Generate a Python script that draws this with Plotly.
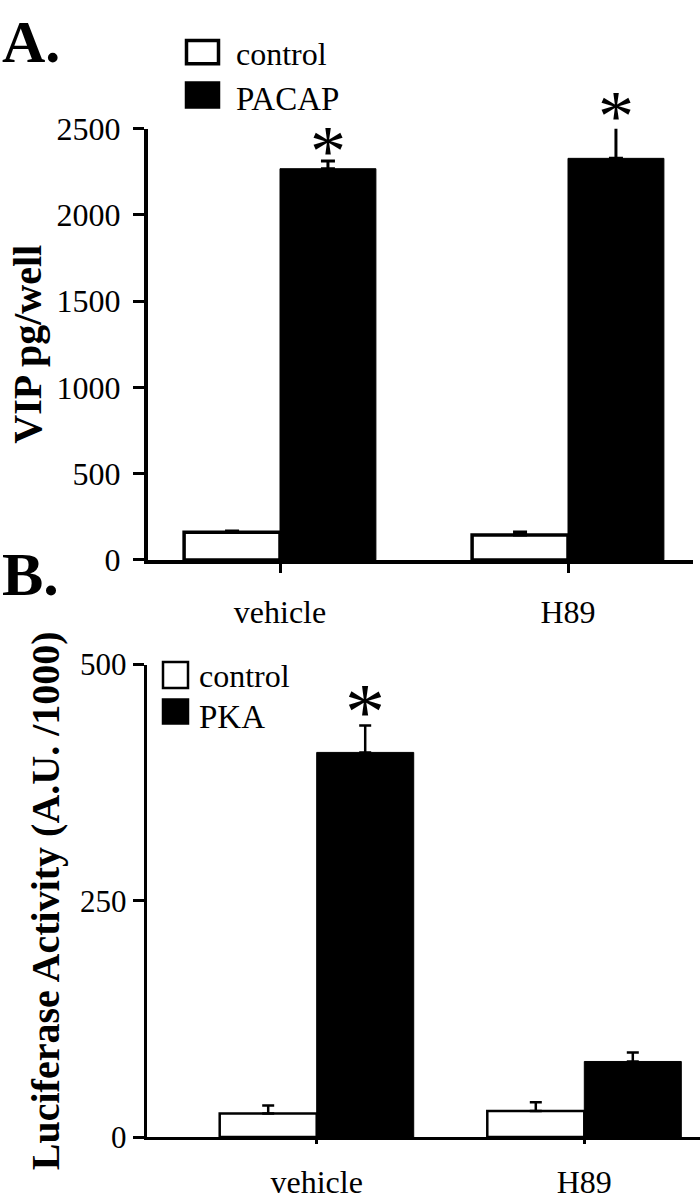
import plotly.graph_objects as go

# ---- data ----
categories = ["vehicle", "H89"]

a_control = [160, 145]
a_control_err = [8, 16]
a_pacap = [2268, 2328]
a_pacap_err = [45, 190]

b_control = [25, 27.5]
b_control_err = [8.5, 9.5]
b_pka = [407, 80]
b_pka_err = [28.5, 9.5]

a_yticks = [0, 500, 1000, 1500, 2000, 2500]
b_yticks = [0, 250, 500]
a_ymax = 2500
b_ymax = 500

FONT = "Liberation Serif"
W, H = 700, 1200


def px_x(p):
    return p / W


def px_y(p):
    return 1 - p / H


# plot areas (page pixels)
A_L, A_R, A_T, A_B = 148, 693, 115, 563
B_L, B_R, B_T, B_B = 146.5, 700, 671.7, 1162.7

fig = go.Figure()

# panel A bars
wA = 0.333
fig.add_trace(go.Bar(x=[0, 1], y=a_control, width=wA, offset=-wA, name="control",
                     marker=dict(color="white", line=dict(color="black", width=3.5)),
                     error_y=dict(type="data", symmetric=False, array=a_control_err,
                                  arrayminus=[0, 0], color="black", thickness=3, width=7),
                     cliponaxis=False, showlegend=False, xaxis="x", yaxis="y"))
fig.add_trace(go.Bar(x=[0, 1], y=a_pacap, width=wA, offset=0, name="PACAP",
                     marker=dict(color="black", line=dict(color="black", width=1)),
                     error_y=dict(type="data", symmetric=False, array=a_pacap_err,
                                  arrayminus=[0, 0], color="black", thickness=3, width=7),
                     cliponaxis=False, showlegend=False, xaxis="x", yaxis="y"))

# panel B bars
wB = 0.3625
fig.add_trace(go.Bar(x=[0, 1], y=b_control, width=wB, offset=-wB, name="control",
                     marker=dict(color="white", line=dict(color="black", width=2.5)),
                     error_y=dict(type="data", symmetric=False, array=b_control_err,
                                  arrayminus=[0, 0], color="black", thickness=2.5, width=6),
                     cliponaxis=False, showlegend=False, xaxis="x2", yaxis="y2"))
fig.add_trace(go.Bar(x=[0, 1], y=b_pka, width=wB, offset=0, name="PKA",
                     marker=dict(color="black", line=dict(color="black", width=1)),
                     error_y=dict(type="data", symmetric=False, array=b_pka_err,
                                  arrayminus=[0, 0], color="black", thickness=2.5, width=6),
                     cliponaxis=False, showlegend=False, xaxis="x2", yaxis="y2"))

catA0, catA1 = 280, 568
catB0, catB1 = 316.7, 584.3
dA = catA1 - catA0
dB = catB1 - catB0

fig.update_layout(
    width=W, height=H,
    margin=dict(l=0, r=0, t=0, b=0),
    paper_bgcolor="white", plot_bgcolor="white",
    font=dict(family=FONT, color="black"),
    xaxis=dict(domain=[px_x(A_L), px_x(A_R)],
               range=[(A_L - catA0) / dA, (A_R - catA0) / dA],
               tickvals=[0, 1], ticktext=categories,
               tickfont=dict(family=FONT, size=32, color="black"),
               showline=True, linecolor="black", linewidth=4, ticks="outside", ticklen=9,
               tickwidth=3, tickcolor="black", ticklabelstandoff=12,
               showgrid=False, zeroline=False, anchor="y", fixedrange=True),
    yaxis=dict(domain=[px_y(A_B), px_y(A_T)], range=[0, a_ymax],
               tickvals=a_yticks, tickfont=dict(family=FONT, size=32, color="black"),
               showline=True, linecolor="black", linewidth=4, ticks="outside", ticklen=11,
               tickwidth=3, tickcolor="black", ticklabelstandoff=6,
               showgrid=False, zeroline=False,
               title=dict(text="<b>VIP pg/well</b>", font=dict(family=FONT, size=40, color="black"),
                          standoff=4),
               anchor="x", fixedrange=True),
    xaxis2=dict(domain=[px_x(B_L), px_x(B_R)],
                range=[(B_L - catB0) / dB, (B_R - catB0) / dB],
                tickvals=[0, 1], ticktext=categories,
                tickfont=dict(family=FONT, size=32, color="black"),
                showline=True, linecolor="black", linewidth=2.5, ticks="outside", ticklen=4,
                tickwidth=2.5, tickcolor="black", ticklabelstandoff=11,
                showgrid=False, zeroline=False, anchor="y2", fixedrange=True),
    yaxis2=dict(domain=[px_y(B_B), px_y(B_T)], range=[0, b_ymax],
                tickvals=b_yticks, tickfont=dict(family=FONT, size=31, color="black"),
                showline=True, linecolor="black", linewidth=2.5, ticks="outside", ticklen=11,
                tickwidth=2.5, tickcolor="black", ticklabelstandoff=0,
                showgrid=False, zeroline=False,
                title=dict(text="<b>Luciferase Activity (A.U. /1000)</b>",
                           font=dict(family=FONT, size=40, color="black"), standoff=9),
                anchor="x2", fixedrange=True),
)

annotations = []
# panel labels
annotations.append(dict(text="<b>A.</b>", x=px_x(0), y=px_y(25), xref="paper", yref="paper",
                        xanchor="left", yanchor="middle", showarrow=False,
                        font=dict(family=FONT, size=60, color="black")))
annotations.append(dict(text="<b>B.</b>", x=px_x(0), y=px_y(578), xref="paper", yref="paper",
                        xanchor="left", yanchor="middle", showarrow=False,
                        font=dict(family=FONT, size=62, color="black")))


# significance asterisks, placed above the error bars (computed from the data)
def star(xdata_px, top_value, ymax, bot, top, gap, size):
    y_page = bot - top_value / ymax * (bot - top) - gap
    annotations.append(dict(text="*", x=px_x(xdata_px), y=px_y(y_page),
                            xref="paper", yref="paper", xanchor="center", yanchor="middle",
                            yshift=-0.157 * size, showarrow=False,
                            font=dict(family=FONT, size=size, color="black")))


for i, (v, e) in enumerate(zip(a_pacap, a_pacap_err)):
    xc = catA0 + (i + wA / 2) * dA
    star(xc, v + e, a_ymax, A_B, A_T, 22, 72)
xcB = catB0 + (0 + wB / 2) * dB
star(xcB, b_pka[0] + b_pka_err[0], b_ymax, B_B, B_T, 27, 80)

# legends
shapes = []


def legend_item(x0, y0, x1, y1, fill, label, size, tx, ty, lw):
    shapes.append(dict(type="rect", xref="paper", yref="paper",
                       x0=px_x(x0), x1=px_x(x1), y0=px_y(y1), y1=px_y(y0),
                       fillcolor=fill, line=dict(color="black", width=lw)))
    annotations.append(dict(text=label, x=px_x(tx), y=px_y(ty),
                            xref="paper", yref="paper", xanchor="left", yanchor="middle",
                            showarrow=False, font=dict(family=FONT, size=size, color="black")))


legend_item(186.5, 23.5, 218.5, 47.5, "white", "control", 32, 234, 37, 3.5)
legend_item(186.5, 67.5, 218.5, 92.5, "black", "PACAP", 33, 234, 84, 3.5)
legend_item(163, 669, 188, 696, "white", "control", 32, 197, 684, 2.5)
legend_item(163, 708, 188, 733, "black", "PKA", 33, 197, 726, 2.5)

fig.update_layout(annotations=annotations, shapes=shapes)

fig.write_html("out.html",
               config={"displayModeBar": False},
               post_script="document.body.style.margin='0';document.body.style.overflow='hidden';")
